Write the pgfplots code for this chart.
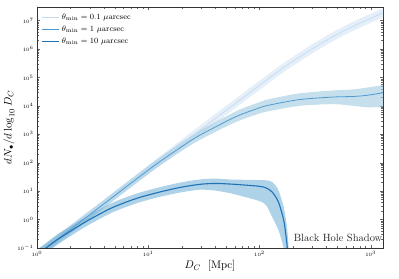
\documentclass[border=0pt]{standalone}
\usepackage{pgfplots}
\pgfplotsset{compat=1.18}
\usepackage{pgfplotstable}
\usepgfplotslibrary{fillbetween}
\definecolor{cLight}{HTML}{C6DBEF}
\definecolor{cMid}{HTML}{4F9BD0}
\definecolor{cDark}{HTML}{2171B5}
\definecolor{bLight}{HTML}{DEEBF7}
\definecolor{bMid}{HTML}{9ECAE1}
\definecolor{bDark}{HTML}{6BAED6}

\pgfplotstableread{
D c u l
1.0 0.0575 0.0831 0.0398
1.205 0.1 0.1445 0.0692
3.162 1.778 2.569 1.230
10 56.23 81.25 38.91
31.62 1778 2569 1230
100 52480 75830 36320
158.5 199500 288300 138100
251.2 660700 954700 457200
398.1 1995000 2883000 1381000
631.0 5248000 7583000 3632000
1000 12020000 17370000 8318000
1290 18620000 26910000 12890000
}\lighttab

\pgfplotstableread{
D c u l
1.0 0.0575 0.0776 0.0427
1.205 0.1 0.135 0.0741
3.162 1.778 2.399 1.318
10 54.95 75.86 39.81
15.85 199.5 281.8 141.3
25.12 660.7 955.0 457.1
33.65 1259 1862 851.1
50.12 2818 4266 1862
66.68 4786 7413 3090
100 8511 13490 5370
123.9 10720 17380 6607
229.1 16600 27540 10000
457.1 20420 34670 11480
700 21380 38020 10000
922.6 23440 43650 8913
1290 28840 53700 9120
}\midtab

\pgfplotstableread{
D c u l
1.0 0.0575 0.0871 0.0380
1.205 0.1 0.1514 0.0661
1.585 0.2188 0.3311 0.1445
2.432 0.6310 0.9333 0.4266
3.162 1.148 1.698 0.7762
4.819 2.692 3.981 1.820
7.943 5.623 8.318 3.802
12.74 9.333 13.80 6.310
19.95 13.80 20.42 9.120
29.17 17.38 25.70 11.22
39.81 18.62 27.54 10.47
54.2 17.78 25.70 8.511
70 16.60 25.12 6.607
100 14.79 24.55 4.467
115 12.88 23.99 3.162
130 9.333 20.89 1.230
148 4.169 10.96 0.4266
165 0.9772 2.754 0.1
172 0.3162 1.122 0.01995
178 0.1 0.4266 0.003162
183 0.01585 0.1 0.000316
}\darktab

\begin{document}
\begin{tikzpicture}
\begin{axis}[
  name=ax,
  scale only axis,
  width=346pt, height=241pt,
  xmode=log, ymode=log,
  xmin=1, xmax=1290,
  ymin=0.1, ymax=3e7,
  ytick={0.1,1,10,100,1000,10000,100000,1000000,10000000},
  xtick={1,10,100,1000},
  tick label style={font=\tiny},
  major tick length=3pt, minor tick length=1.6pt,
  every tick/.style={color=black!60, line width=0.4pt},
  axis line style={draw=black!80, line width=0.6pt},
  xlabel={$D_C\ \ [\mathrm{Mpc}]$},
  ylabel={$dN_\bullet/d\log_{10}D_C$},
  label style={font=\fontsize{11}{13}\selectfont},
  xlabel style={yshift=3pt},
  ylabel style={yshift=-4pt},
  legend style={draw=none, fill=none, at={(0.01,0.985)}, anchor=north west,
    font=\fontsize{8}{9}\selectfont, row sep=1pt, inner sep=1pt},
  legend cell align=left,
  legend image code/.code={\draw[#1] (0cm,0cm) -- (0.6cm,0cm);},
  clip=true,
]
% bands
\addplot[draw=none, name path=lu, forget plot, smooth] table[x=D,y=u]{\lighttab};
\addplot[draw=none, name path=ll, forget plot, smooth] table[x=D,y=l]{\lighttab};
\addplot[fill=bLight, fill opacity=0.8, draw=none, forget plot] fill between[of=lu and ll];
\addplot[draw=none, name path=mu, forget plot, smooth] table[x=D,y=u]{\midtab};
\addplot[draw=none, name path=ml, forget plot, smooth] table[x=D,y=l]{\midtab};
\addplot[fill=bMid, fill opacity=0.6, draw=none, forget plot] fill between[of=mu and ml];
\addplot[draw=none, name path=du, forget plot, smooth] table[x=D,y=u]{\darktab};
\addplot[draw=none, name path=dl, forget plot, smooth] table[x=D,y=l]{\darktab};
\addplot[fill=bDark, fill opacity=0.55, draw=none, forget plot] fill between[of=du and dl];
% lines
\addplot[cLight, line width=0.7pt, smooth] table[x=D,y=c]{\lighttab};
\addlegendentry{$\theta_{\rm min} = 0.1\ \mu\mathrm{arcsec}$}
\addplot[cMid, line width=0.8pt, smooth] table[x=D,y=c]{\midtab};
\addlegendentry{$\theta_{\rm min} = 1\ \mu\mathrm{arcsec}$}
\addplot[cDark, line width=1.1pt, smooth] table[x=D,y=c]{\darktab};
\addlegendentry{$\theta_{\rm min} = 10\ \mu\mathrm{arcsec}$}
\node[anchor=south east, inner sep=0.5pt, font=\fontsize{10.5}{12}\selectfont, text=black!85] at (rel axis cs:1,0.025) {Black Hole Shadow};
\end{axis}
\pgfresetboundingbox
\path[use as bounding box] ([shift={(-37pt,-31pt)}]ax.south west) rectangle ([shift={(16pt,7pt)}]ax.north east);
\end{tikzpicture}
\end{document}
